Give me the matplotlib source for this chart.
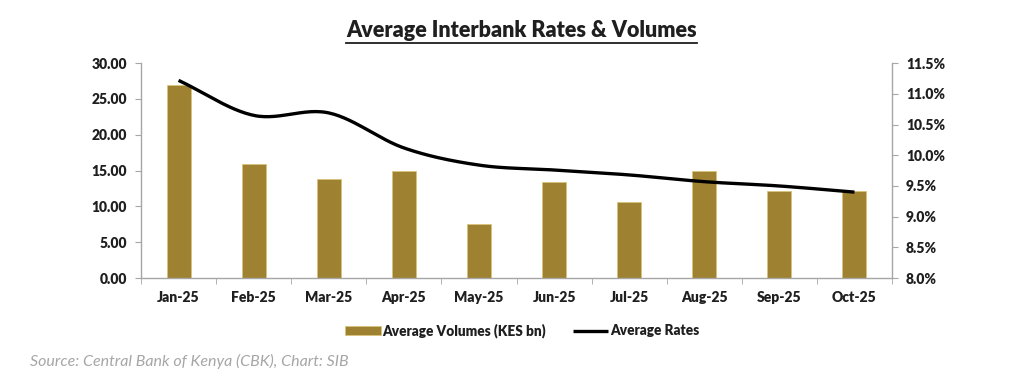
import numpy as np
import matplotlib
matplotlib.use('Agg')
import matplotlib.pyplot as plt
from matplotlib.ticker import FuncFormatter, FixedLocator

plt.rcParams['font.family'] = ['Lato', 'DejaVu Sans']

# data
months = ['Jan-25', 'Feb-25', 'Mar-25', 'Apr-25', 'May-25',
          'Jun-25', 'Jul-25', 'Aug-25', 'Sep-25', 'Oct-25']
volumes = [27.0, 15.9, 13.8, 15.0, 7.5, 13.4, 10.6, 15.0, 12.1, 12.1]
rates = [11.22, 10.65, 10.69, 10.12, 9.84, 9.76, 9.68, 9.57, 9.50, 9.40]

bar_col = '#9f8132'
axis_col = '#a6a6a6'
txt_col = '#1f1f1f'


def smooth(x, y, n=30):
    # catmull-rom curve through the points, like excel's smoothed line
    x = np.asarray(x, float)
    y = np.asarray(y, float)
    px = np.concatenate([[2 * x[0] - x[1]], x, [2 * x[-1] - x[-2]]])
    py = np.concatenate([[2 * y[0] - y[1]], y, [2 * y[-1] - y[-2]]])
    xs, ys = [], []
    t = np.linspace(0, 1, n)
    for i in range(1, len(px) - 2):
        for p, out in ((px, xs), (py, ys)):
            p0, p1, p2, p3 = p[i - 1], p[i], p[i + 1], p[i + 2]
            out.extend(0.5 * (2 * p1 + (-p0 + p2) * t
                              + (2 * p0 - 5 * p1 + 4 * p2 - p3) * t ** 2
                              + (-p0 + 3 * p1 - 3 * p2 + p3) * t ** 3))
    return np.array(xs), np.array(ys)


fig = plt.figure(figsize=(10.24, 3.9), dpi=100)
ax = fig.add_axes([0.1377, 0.287, 0.7334, 0.551])
ax2 = ax.twinx()

x = np.arange(len(months))
bars = ax.bar(x, volumes, width=0.32, color=bar_col, edgecolor='#d8c27a',
              linewidth=0.6, label='Average Volumes (KES bn)', zorder=2)
sx, sy = smooth(x, rates)
line, = ax2.plot(sx, sy, color='black', lw=2.4, label='Average Rates',
                 solid_capstyle='butt')

ax.set_xlim(-0.5, len(months) - 0.5)
ax.set_ylim(0, 30)
ax.set_yticks(np.arange(0, 30.1, 5))
ax.yaxis.set_major_formatter(FuncFormatter(lambda v, p: f'{v:.2f}'))
ax2.set_ylim(8, 11.5)
ax2.set_yticks(np.arange(8, 11.51, 0.5))
ax2.yaxis.set_major_formatter(FuncFormatter(lambda v, p: f'{v:.1f}%'))

ax.set_xticks(x)
ax.set_xticklabels(months)
ax.xaxis.set_minor_locator(FixedLocator(np.arange(-0.5, len(months), 1)))
ax.tick_params(axis='x', which='major', length=0, pad=9)
ax.tick_params(axis='x', which='minor', length=4, color=axis_col, direction='out')

for a in (ax, ax2):
    for s in a.spines.values():
        s.set_visible(False)
    a.tick_params(axis='y', length=4, color=axis_col, pad=6)
    for lab in a.get_yticklabels() + a.get_xticklabels():
        lab.set_fontsize(10)
        lab.set_fontweight('heavy')
        lab.set_color(txt_col)
ax.spines['left'].set_visible(True)
ax.spines['bottom'].set_visible(True)
ax2.spines['right'].set_visible(True)
for s in (ax.spines['left'], ax.spines['bottom'], ax2.spines['right']):
    s.set_color(axis_col)
    s.set_linewidth(1.0)

# title with underline
title = fig.text(0.509, 0.922, 'Average Interbank Rates & Volumes', ha='center',
                 va='center', fontsize=15.5, fontweight='heavy', color=txt_col)
fig.canvas.draw()
bb = title.get_window_extent().transformed(fig.transFigure.inverted())
fig.add_artist(plt.Line2D([bb.x0, bb.x1], [bb.y0 - 0.006, bb.y0 - 0.006],
                          transform=fig.transFigure, color=txt_col, lw=1.3))

leg = fig.legend(handles=[bars, line], loc='center', bbox_to_anchor=(0.51, 0.153),
                 ncol=2, frameon=False, handlelength=2.6, handleheight=0.6,
                 columnspacing=2.0, handletextpad=0.1,
                 prop={'size': 9.8, 'weight': 'heavy'})
for t in leg.get_texts():
    t.set_color(txt_col)

fig.text(0.029, 0.072, 'Source: Central Bank of Kenya (CBK), Chart: SIB',
         ha='left', va='center', fontsize=11.5, style='italic', color='#a6a6a6')

fig.savefig('out.png', dpi=100)
